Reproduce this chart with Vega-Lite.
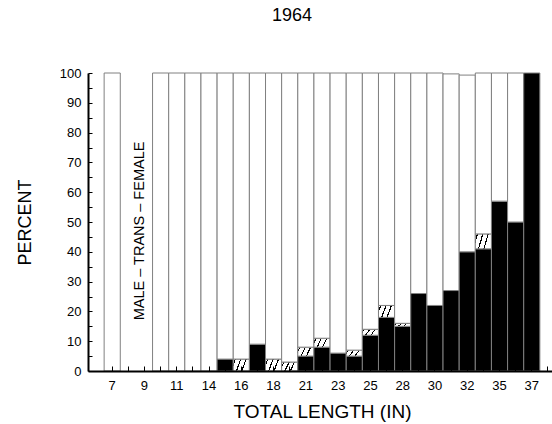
{
  "$schema": "https://vega.github.io/schema/vega-lite/v6.json",
  "autosize": "none",
  "width": 468,
  "height": 298,
  "padding": {"left": 88, "top": 73, "right": 0, "bottom": 53},
  "background": "white",
  "title": {"text": "1964", "fontSize": 18, "font": "Liberation Sans", "fontWeight": "normal", "color": "#000000", "offset": 42, "dx": -30, "anchor": "middle"},
  "config": {"view": {"stroke": null}, "font": "Liberation Sans"},
  "data": {"values": [
    {"length": 7, "sex": "male", "percent": 100},
    {"length": 10, "sex": "male", "percent": 100},
    {"length": 11, "sex": "male", "percent": 100},
    {"length": 12, "sex": "male", "percent": 100},
    {"length": 14, "sex": "male", "percent": 100},
    {"length": 15, "sex": "female", "percent": 4},
    {"length": 15, "sex": "male", "percent": 96},
    {"length": 16, "sex": "trans", "percent": 4},
    {"length": 16, "sex": "male", "percent": 96},
    {"length": 17, "sex": "female", "percent": 9},
    {"length": 17, "sex": "male", "percent": 91},
    {"length": 18, "sex": "trans", "percent": 4},
    {"length": 18, "sex": "male", "percent": 96},
    {"length": 19, "sex": "trans", "percent": 3},
    {"length": 19, "sex": "male", "percent": 97},
    {"length": 21, "sex": "female", "percent": 5},
    {"length": 21, "sex": "trans", "percent": 3},
    {"length": 21, "sex": "male", "percent": 92},
    {"length": 22, "sex": "female", "percent": 8},
    {"length": 22, "sex": "trans", "percent": 3},
    {"length": 22, "sex": "male", "percent": 89},
    {"length": 23, "sex": "female", "percent": 6},
    {"length": 23, "sex": "male", "percent": 94},
    {"length": 24, "sex": "female", "percent": 5},
    {"length": 24, "sex": "trans", "percent": 2},
    {"length": 24, "sex": "male", "percent": 93},
    {"length": 25, "sex": "female", "percent": 12},
    {"length": 25, "sex": "trans", "percent": 2},
    {"length": 25, "sex": "male", "percent": 86},
    {"length": 26, "sex": "female", "percent": 18},
    {"length": 26, "sex": "trans", "percent": 4},
    {"length": 26, "sex": "male", "percent": 78},
    {"length": 28, "sex": "female", "percent": 15},
    {"length": 28, "sex": "trans", "percent": 1},
    {"length": 28, "sex": "male", "percent": 84},
    {"length": 29, "sex": "female", "percent": 26},
    {"length": 29, "sex": "male", "percent": 74},
    {"length": 30, "sex": "female", "percent": 22},
    {"length": 30, "sex": "male", "percent": 78},
    {"length": 31, "sex": "female", "percent": 27},
    {"length": 31, "sex": "male", "percent": 72.7},
    {"length": 32, "sex": "female", "percent": 40},
    {"length": 32, "sex": "male", "percent": 59.3},
    {"length": 33, "sex": "female", "percent": 41},
    {"length": 33, "sex": "trans", "percent": 5},
    {"length": 33, "sex": "male", "percent": 54},
    {"length": 35, "sex": "female", "percent": 57},
    {"length": 35, "sex": "male", "percent": 43},
    {"length": 36, "sex": "female", "percent": 50},
    {"length": 36, "sex": "male", "percent": 50},
    {"length": 37, "sex": "female", "percent": 100}
  ]},
  "encoding": {
    "x": {
      "field": "length",
      "type": "ordinal",
      "scale": {
        "domain": [7, 8, 9, 10, 11, 12, 14, 15, 16, 17, 18, 19, 21, 22, 23, 24, 25, 26, 28, 29, 30, 31, 32, 33, 35, 36, 37, 38],
        "paddingInner": 0,
        "paddingOuter": 0.5,
        "align": 1
      },
      "axis": {
        "title": "TOTAL LENGTH (IN)",
        "titleFontSize": 19,
        "titleFontWeight": "normal",
        "titleColor": "#000000",
        "titlePadding": 10,
        "labelAngle": 0,
        "labelFontSize": 13,
        "labelColor": "#000000",
        "labelOverlap": false,
        "labelExpr": "indexof([7, 9, 11, 14, 16, 18, 21, 23, 25, 28, 30, 32, 35, 37], datum.value) >= 0 ? datum.label : ''",
        "labelPadding": 13,
        "tickSize": -5,
        "tickColor": "#000000",
        "tickWidth": 1,
        "domainColor": "#000000",
        "domainWidth": 2,
        "zindex": 1
      }
    },
    "y": {
      "field": "percent",
      "type": "quantitative",
      "scale": {"domain": [0, 100], "nice": false},
      "axis": {
        "title": "PERCENT",
        "titleFontSize": 18,
        "titleFontWeight": "normal",
        "titleColor": "#000000",
        "titlePadding": 25,
        "values": [0, 5, 10, 15, 20, 25, 30, 35, 40, 45, 50, 55, 60, 65, 70, 75, 80, 85, 90, 95, 100],
        "labelExpr": "datum.value % 10 === 0 ? datum.label : ''",
        "labelFontSize": 13,
        "labelColor": "#000000",
        "labelPadding": 11,
        "tickSize": -4,
        "tickColor": "#000000",
        "tickWidth": 1,
        "domainColor": "#000000",
        "domainWidth": 2,
        "grid": false
      }
    }
  },
  "layer": [
    {
      "mark": {"type": "bar", "stroke": "#808080", "strokeWidth": 1},
      "encoding": {
        "fill": {
          "condition": [
            {"test": "datum.sex === 'female'", "value": "#000000"},
            {
              "test": "datum.sex === 'trans'",
              "value": {
                "gradient": "linear",
                "x1": 0, "y1": 0, "x2": 1, "y2": 0.27,
                "stops": [
                  {"offset": 0, "color": "#ffffff"},
                  {"offset": 0.09, "color": "#ffffff"},
                  {"offset": 0.09, "color": "#000000"},
                  {"offset": 0.16, "color": "#000000"},
                  {"offset": 0.16, "color": "#ffffff"},
                  {"offset": 0.40, "color": "#ffffff"},
                  {"offset": 0.40, "color": "#000000"},
                  {"offset": 0.47, "color": "#000000"},
                  {"offset": 0.47, "color": "#ffffff"},
                  {"offset": 0.71, "color": "#ffffff"},
                  {"offset": 0.71, "color": "#000000"},
                  {"offset": 0.78, "color": "#000000"},
                  {"offset": 0.78, "color": "#ffffff"},
                  {"offset": 1, "color": "#ffffff"}
                ]
              }
            }
          ],
          "value": "#ffffff"
        }
      }
    },
    {
      "data": {"values": [{"length": 9, "percent": 47, "note": "MALE – TRANS – FEMALE"}]},
      "mark": {"type": "text", "angle": 270, "fontSize": 14.5, "baseline": "middle", "align": "center", "dy": -4, "color": "#000000"},
      "encoding": {"text": {"field": "note"}}
    }
  ]
}
